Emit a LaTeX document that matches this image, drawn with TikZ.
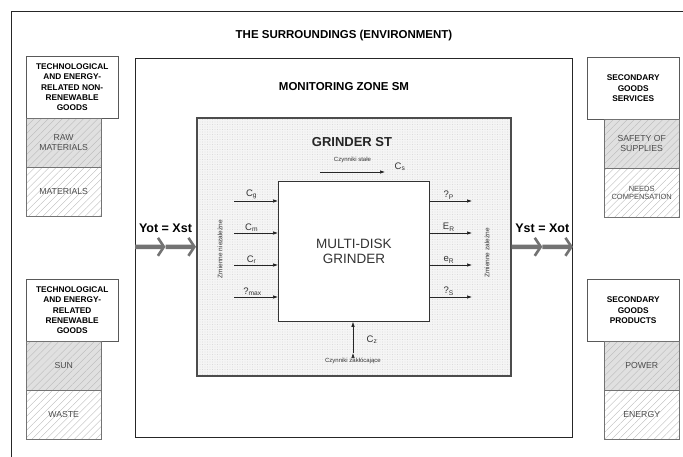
\documentclass[tikz,border=0pt]{standalone}
\usepackage{fontspec}
\setmainfont{Liberation Sans}
\usetikzlibrary{arrows.meta,positioning,calc,patterns.meta}

\begin{document}
\begin{tikzpicture}[x=1pt,y=-1pt,
frame/.style={draw=black!85,line width=1pt},
goodsbox/.style={draw=black!65,fill=white,anchor=north west,inner sep=0pt,minimum width=92pt,minimum height=62pt,align=center,font=\fontsize{8.3}{10.4}\selectfont\bfseries},
itembox/.style={draw=black!55,anchor=north west,inner sep=0pt,minimum width=75pt,minimum height=48.5pt,align=center,text=black!70,font=\fontsize{8.7}{9.8}\selectfont,pattern={Lines[angle=45,distance=5pt,line width=0.35pt]},pattern color=black!28},
itemgrey/.style={itembox,preaction={fill=black!12}},
heading/.style={font=\fontsize{11.5}{13}\selectfont\bfseries},
sig/.style={draw=black!85,line width=0.6pt,-{Latex[length=5pt,width=3.5pt]}},
flow/.style={draw=black!55,line width=4.5pt,-{Straight Barb[length=6pt,width=18pt,line width=2.6pt]}},
lbl/.style={font=\fontsize{9.5}{10}\selectfont,text=black!80,inner sep=1.5pt},
small/.style={font=\fontsize{6}{6.5}\selectfont,text=black!80,inner sep=1pt}
]
\useasboundingbox (0,0) rectangle (683,457);
% environment
\draw[frame] (11,457) -- (11,12) -- (683,12);
\node[heading] (env) at (344,36) {THE SURROUNDINGS (ENVIRONMENT)};
% monitoring zone and grinder
\node[frame,anchor=north west,minimum width=437pt,minimum height=379pt,inner sep=0pt] (zone) at (135,58) {};
\node[heading] (sm) at (344,87) {MONITORING ZONE SM};
\node[draw=black!70,line width=1.6pt,preaction={fill=black!4},pattern={Dots[distance=2.5pt,radius=0.35pt]},pattern color=black!20,anchor=north west,minimum width=314pt,minimum height=258pt,inner sep=0pt] (st) at (196,117) {};
\node[font=\fontsize{13}{15}\selectfont\bfseries,text=black!85] (stname) at (352,142) {GRINDER ST};
\node[draw=black!80,line width=0.8pt,fill=white,anchor=north west,minimum width=151pt,minimum height=140pt,align=center,font=\fontsize{13.5}{15.5}\selectfont,text=black!80] (mdg) at (278,181) {MULTI-DISK\\GRINDER};

\coordinate (in-g) at (234,201);
\coordinate (in-m) at (234,233);
\coordinate (in-r) at (234,265);
\coordinate (in-max) at (234,297);
\coordinate (out-p) at (472,201);
\coordinate (out-e) at (472,233);
\coordinate (out-er) at (472,265);
\coordinate (out-s) at (472,297);
\coordinate (cs-a) at (320,172);
\coordinate (cs-b) at (385,172);
\coordinate (cz) at (353,353);

\path[sig]
(in-g) edge node[lbl,above,pos=.4] {C\textsubscript{g}} (in-g -| mdg.west)
(in-m) edge node[lbl,above,pos=.4] {C\textsubscript{m}} (in-m -| mdg.west)
(in-r) edge node[lbl,above,pos=.4] {C\textsubscript{r}} (in-r -| mdg.west)
(in-max) edge node[lbl,above,pos=.42] {?\textsubscript{max}} (in-max -| mdg.west)
(out-p -| mdg.east) edge node[lbl,above,pos=.45] {?\textsubscript{P}} (out-p)
(out-e -| mdg.east) edge node[lbl,above,pos=.45] {E\textsubscript{R}} (out-e)
(out-er -| mdg.east) edge node[lbl,above,pos=.45] {e\textsubscript{R}} (out-er)
(out-s -| mdg.east) edge node[lbl,above,pos=.45] {?\textsubscript{S}} (out-s)
(cs-a) edge node[small,above=8pt] {Czynniki stałe} (cs-b)
(cz) edge (cz |- mdg.south)
;
\node[lbl] (cs) at (400,167) {C\textsubscript{s}};
\node[lbl] (czl) at (372,340) {C\textsubscript{z}};
\node[small,below=4pt of cz] (czt) {Czynniki zakłócające};
\node[small,font=\fontsize{6.5}{7}\selectfont,rotate=90] (zn) at (220,249) {Zmienne niezależne};
\node[small,font=\fontsize{6.5}{7}\selectfont,rotate=90] (zz) at (487,253) {Zmienne zależne};

% flows in and out
\coordinate (fl-a) at (zone.west |- st.west);
\coordinate (fl-b) at ($(fl-a)!.5!(st.west)$);
\coordinate (fr-b) at (zone.east |- st.east);
\coordinate (fr-a) at ($(st.east)!.5!(fr-b)$);
\draw[flow] (fl-a) -- (fl-b);
\draw[flow] (fl-b) -- (st.west);
\draw[flow] (st.east) -- (fr-a);
\draw[flow] (fr-a) -- (fr-b);
\node[font=\fontsize{12.5}{14}\selectfont\bfseries,inner sep=0pt,above=14pt of fl-b] (yot) {Yot = Xst};
\node[font=\fontsize{12.5}{14}\selectfont\bfseries,inner sep=0pt,above=14pt of fr-a] (yst) {Yst = Xot};

% goods on the left
\node[goodsbox] (nonren) at (26,56) {TECHNOLOGICAL\\AND ENERGY-\\RELATED NON-\\RENEWABLE\\GOODS};
\node[itemgrey] (raw) at (nonren.south west) {RAW\\MATERIALS};
\node[itembox,below=0pt of raw] (mat) {MATERIALS};
\node[goodsbox] (ren) at (26,279) {TECHNOLOGICAL\\AND ENERGY-\\RELATED\\RENEWABLE\\GOODS};
\node[itemgrey] (sun) at (ren.south west) {SUN};
\node[itembox,below=0pt of sun] (waste) {WASTE};

% goods on the right
\node[goodsbox] (serv) at (587,57) {SECONDARY\\GOODS\\SERVICES};
\node[itemgrey,anchor=north east] (safety) at (serv.south east) {SAFETY OF\\SUPPLIES};
\node[itembox,below=0pt of safety,font=\fontsize{7.5}{8.5}\selectfont] (needs) {NEEDS\\COMPENSATION};
\node[goodsbox] (prod) at (587,279) {SECONDARY\\GOODS\\PRODUCTS};
\node[itemgrey,anchor=north east] (power) at (prod.south east) {POWER};
\node[itembox,below=0pt of power] (energy) {ENERGY};
\end{tikzpicture}
\end{document}
